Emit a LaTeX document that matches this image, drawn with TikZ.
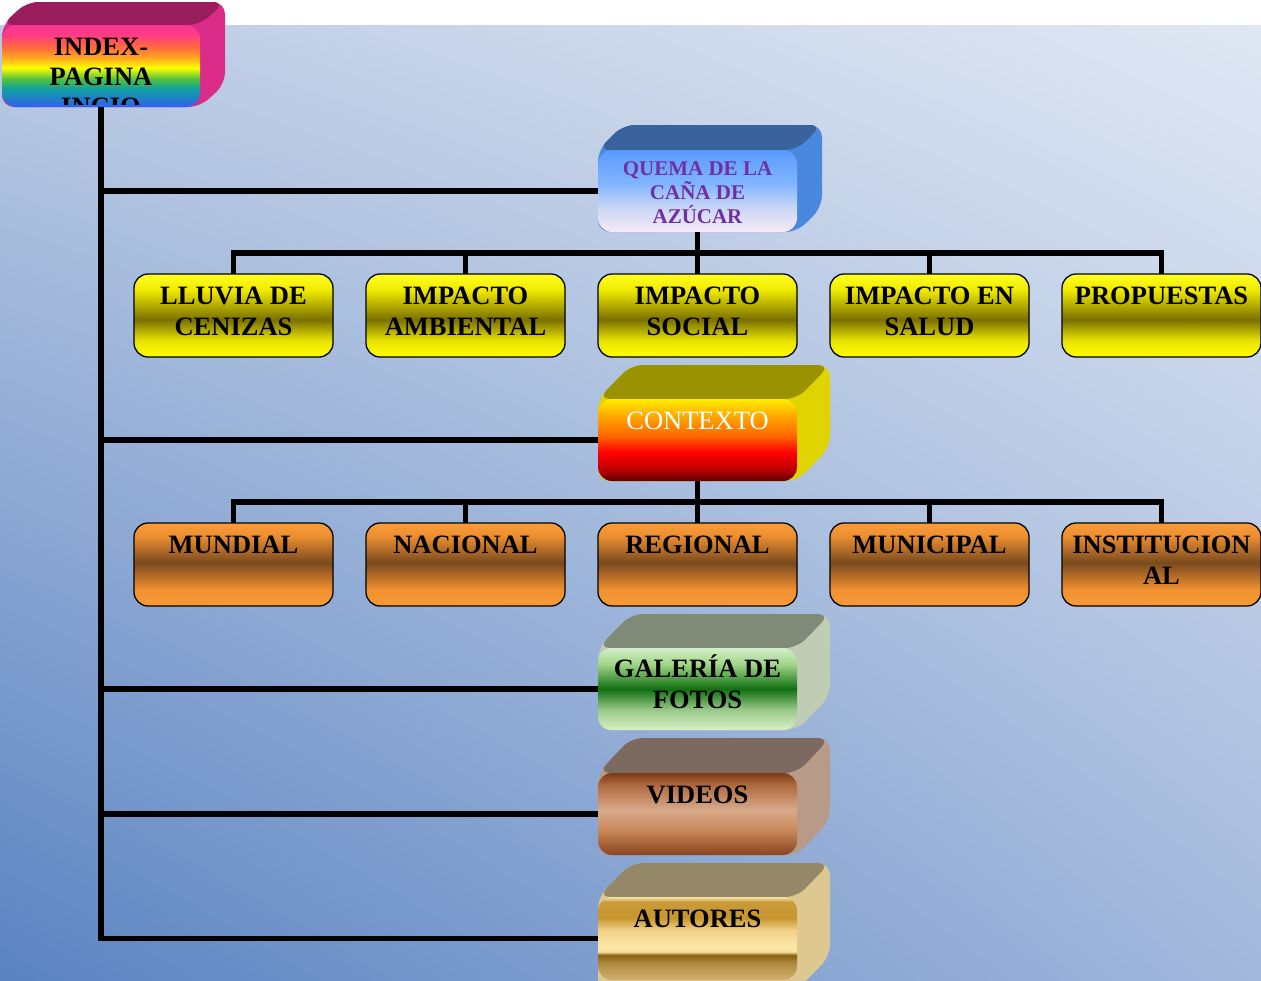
\documentclass[tikz,border=0pt]{standalone}
\usepackage{fontspec}
\setmainfont{Liberation Serif}
\usetikzlibrary{calc,shadings}
% background
\definecolor{bgLL}{HTML}{5A83C1}
\definecolor{bgUL}{HTML}{BCCBE4}
\definecolor{bgUR}{HTML}{DFE7F3}
\definecolor{bgLR}{HTML}{A3B8DC}
% yellow
\definecolor{ylA}{HTML}{FFFF20}\definecolor{ylB}{HTML}{EEE800}\definecolor{ylC}{HTML}{7A7000}
\definecolor{ylD}{HTML}{E8E200}\definecolor{ylE}{HTML}{FFFF00}
\pgfdeclareverticalshading{shyellow}{100bp}{color(0bp)=(ylE); color(25bp)=(ylE); color(35bp)=(ylD); color(47.5bp)=(ylC); color(65bp)=(ylB); color(75bp)=(ylA); color(100bp)=(ylA)}
% orange
\definecolor{orA}{HTML}{F99C3C}\definecolor{orB}{HTML}{EE9030}\definecolor{orC}{HTML}{7A4A1E}
\definecolor{orD}{HTML}{F09030}\definecolor{orE}{HTML}{F99A38}
\pgfdeclareverticalshading{shorange}{100bp}{color(0bp)=(orE); color(25bp)=(orE); color(35bp)=(orD); color(51bp)=(orC); color(67.5bp)=(orB); color(75bp)=(orA); color(100bp)=(orA)}
% contexto
\definecolor{ctA}{HTML}{FFEE00}\definecolor{ctB}{HTML}{FFAA00}\definecolor{ctC}{HTML}{FF6600}
\definecolor{ctD}{HTML}{FF0000}\definecolor{ctE}{HTML}{C00000}\definecolor{ctF}{HTML}{600000}
\pgfdeclareverticalshading{shcontexto}{100bp}{color(0bp)=(ctF); color(25bp)=(ctF); color(32.5bp)=(ctE); color(42.5bp)=(ctD); color(52.5bp)=(ctC); color(65bp)=(ctB); color(75bp)=(ctA); color(100bp)=(ctA)}
% quema
\definecolor{qmA}{HTML}{5A9AFF}\definecolor{qmB}{HTML}{80B4FF}\definecolor{qmC}{HTML}{C8D6F4}\definecolor{qmD}{HTML}{F8EAF8}
\pgfdeclareverticalshading{shquema}{100bp}{color(0bp)=(qmD); color(25bp)=(qmD); color(40bp)=(qmC); color(55bp)=(qmB); color(75bp)=(qmA); color(100bp)=(qmA)}
% index rainbow
\definecolor{ixA}{HTML}{F5368E}\definecolor{ixB}{HTML}{FF3C86}\definecolor{ixC}{HTML}{FF6A3C}
\definecolor{ixD}{HTML}{FFA820}\definecolor{ixE}{HTML}{FFFF00}\definecolor{ixF}{HTML}{50C040}
\definecolor{ixG}{HTML}{10A0A0}\definecolor{ixH}{HTML}{3060F0}
\pgfdeclareverticalshading{shindex}{100bp}{color(0bp)=(ixH); color(25bp)=(ixH); color(36bp)=(ixG); color(42bp)=(ixF); color(49bp)=(ixE); color(55bp)=(ixD); color(61.5bp)=(ixC); color(69bp)=(ixB); color(75bp)=(ixA); color(100bp)=(ixA)}
% galeria
\definecolor{gaA}{HTML}{D4F0C8}\definecolor{gaB}{HTML}{A0D488}\definecolor{gaC}{HTML}{107010}
\definecolor{gaD}{HTML}{98C888}\definecolor{gaE}{HTML}{D8F0C8}
\pgfdeclareverticalshading{shgaleria}{100bp}{color(0bp)=(gaE); color(25bp)=(gaE); color(37.5bp)=(gaD); color(50bp)=(gaC); color(65bp)=(gaB); color(75bp)=(gaA); color(100bp)=(gaA)}
% videos
\definecolor{viA}{HTML}{7A3C14}\definecolor{viB}{HTML}{B06A40}\definecolor{viC}{HTML}{D8AA8A}
\definecolor{viD}{HTML}{C88858}\definecolor{viE}{HTML}{8A4420}
\pgfdeclareverticalshading{shvideos}{100bp}{color(0bp)=(viE); color(25bp)=(viE); color(40bp)=(viD); color(52.5bp)=(viC); color(67.5bp)=(viB); color(75bp)=(viA); color(100bp)=(viA)}
% autores
\definecolor{auA}{HTML}{F8E4A8}\definecolor{auB}{HTML}{C89A38}\definecolor{auC}{HTML}{C8962E}
\definecolor{auD}{HTML}{F0D088}\definecolor{auE}{HTML}{FCE8A8}\definecolor{auF}{HTML}{F8E0A0}
\definecolor{auG}{HTML}{8A6010}\definecolor{auH}{HTML}{B08A40}\definecolor{auI}{HTML}{D0B070}
\pgfdeclareverticalshading{shautores}{100bp}{color(0bp)=(auI); color(25bp)=(auI); color(35bp)=(auH); color(40bp)=(auG); color(42bp)=(auF); color(45bp)=(auE); color(55bp)=(auD); color(62.5bp)=(auC); color(72bp)=(auB); color(75bp)=(auA); color(100bp)=(auA)}
% 3D faces
\definecolor{ixTop}{HTML}{9A1E5E}\definecolor{ixSide}{HTML}{DA2C88}
\definecolor{qmTop}{HTML}{3A629C}\definecolor{qmSide}{HTML}{4A88E0}
\definecolor{ctTop}{HTML}{9A9200}\definecolor{ctSide}{HTML}{E0D400}
\definecolor{gaTop}{HTML}{808A78}\definecolor{gaSide}{HTML}{C0CCB4}
\definecolor{viTop}{HTML}{7C6A60}\definecolor{viSide}{HTML}{B89A88}
\definecolor{auTop}{HTML}{948868}\definecolor{auSide}{HTML}{DCC890}
\definecolor{qmText}{HTML}{7030A0}

\newcommand{\solidback}[8]{%
  \fill[#8, rounded corners=12pt] (#1,#2) -- (#1+#5,#2-#6) -- (#3+#5,#2-#6) -- (#3+#5,#4-#6) -- (#3,#4) -- (#1,#4) -- cycle;
  \fill[#7, rounded corners=12pt] (#1,#2) -- (#1+#5,#2-#6) -- (#3+#5,#2-#6) -- (#3,#2) -- cycle;
}
\newcommand{\tst}{\rule{0pt}{25pt}}
\newcommand{\qst}{\rule{0pt}{20pt}}

\tikzset{
  front/.style={minimum width=199pt, minimum height=82pt, inner sep=0pt, outer sep=0pt, rounded corners=14pt, shade},
  flat/.style={front, draw=black, line width=1.3pt, minimum height=83pt},
  lbl/.style={align=center, inner sep=0pt, anchor=north, font=\bfseries\fontsize{26.5}{31}\selectfont},
  conn/.style={line width=5.5pt, draw=black, line join=miter}
}

\begin{document}
\begin{tikzpicture}[x=1pt, y=-1pt]
\useasboundingbox (0,0) rectangle (1261,980);
\fill[white] (0,0) rectangle (1261,25);
\shade[lower left=bgLL, upper left=bgUL, upper right=bgUR, lower right=bgLR] (0,25) rectangle (1261,980);

% 3D backs
\solidback{2}{25}{200}{107}{25}{23}{ixTop}{ixSide}
\solidback{598}{150}{797}{232}{25}{25}{qmTop}{qmSide}
\solidback{598}{399}{797}{481}{33}{34}{ctTop}{ctSide}
\solidback{598}{648}{797}{730}{33}{34}{gaTop}{gaSide}
\solidback{598}{773}{797}{855}{33}{35}{viTop}{viSide}
\solidback{598}{897}{797}{990}{33}{34}{auTop}{auSide}

% fronts
\node[front, shading=shindex, minimum width=198pt] (index) at (101,66) {};
\node[front, shading=shquema] (quema) at (697.5,191) {};
\node[front, shading=shcontexto] (contexto) at (697.5,440) {};
\node[front, shading=shgaleria] (galeria) at (697.5,689) {};
\node[front, shading=shvideos] (videos) at (697.5,814) {};
\node[front, shading=shautores, minimum height=83pt] (autores) at (697.5,938.5) {};

\node[flat, shading=shyellow] (lluvia) at (233.5,315.5) {};
\node[flat, shading=shyellow] (ambiental) at (465.5,315.5) {};
\node[flat, shading=shyellow] (social) at (697.5,315.5) {};
\node[flat, shading=shyellow] (salud) at (929.5,315.5) {};
\node[flat, shading=shyellow] (propuestas) at (1161.5,315.5) {};

\node[flat, shading=shorange] (mundial) at (233.5,564.5) {};
\node[flat, shading=shorange] (nacional) at (465.5,564.5) {};
\node[flat, shading=shorange] (regional) at (697.5,564.5) {};
\node[flat, shading=shorange] (municipal) at (929.5,564.5) {};
\node[flat, shading=shorange] (institucional) at (1161.5,564.5) {};

% labels
\begin{scope}
  \clip[rounded corners=14pt] (2,25) rectangle (200,104);
  \node[lbl, font=\bfseries\fontsize{26.5}{30}\selectfont] (indexT) at ([yshift=-5pt]index.north) {\tst INDEX-\\PAGINA\\INCIO};
\end{scope}
\node[lbl, text=qmText, font=\bfseries\fontsize{21}{24}\selectfont] (quemaT) at ([yshift=-5pt]quema.north) {\qst QUEMA DE LA\\CAÑA DE\\AZÚCAR};
\node[lbl, text=white, font=\fontsize{26.5}{31}\selectfont] (contextoT) at ([yshift=-5pt]contexto.north) {\tst CONTEXTO};
\node[lbl] (galeriaT) at ([yshift=-4pt]galeria.north) {\tst GALERÍA DE\\FOTOS};
\node[lbl] (videosT) at ([yshift=-5pt]videos.north) {\tst VIDEOS};
\node[lbl] (autoresT) at ([yshift=-5pt]autores.north) {\tst AUTORES};

\node[lbl] (lluviaT) at ([yshift=-5pt]lluvia.north) {\tst LLUVIA DE\\CENIZAS};
\node[lbl] (ambientalT) at ([yshift=-5pt]ambiental.north) {\tst IMPACTO\\AMBIENTAL};
\node[lbl] (socialT) at ([yshift=-5pt]social.north) {\tst IMPACTO\\SOCIAL};
\node[lbl] (saludT) at ([yshift=-5pt]salud.north) {\tst IMPACTO EN\\SALUD};
\node[lbl] (propuestasT) at ([yshift=-5.5pt]propuestas.north) {\tst PROPUESTAS};

\node[lbl] (mundialT) at ([yshift=-5.5pt]mundial.north) {\tst MUNDIAL};
\node[lbl] (nacionalT) at ([yshift=-5.5pt]nacional.north) {\tst NACIONAL};
\node[lbl] (regionalT) at ([yshift=-5.5pt]regional.north) {\tst REGIONAL};
\node[lbl] (municipalT) at ([yshift=-5.5pt]municipal.north) {\tst MUNICIPAL};
\node[lbl] (institucionalT) at ([yshift=-5pt]institucional.north) {\tst INSTITUCION\\AL};

% connectors
\draw[conn] (index.south) |- (autores.west);
\draw[conn] (index.south |- quema.west) -- (quema.west);
\draw[conn] (index.south |- contexto.west) -- (contexto.west);
\draw[conn] (index.south |- galeria.west) -- (galeria.west);
\draw[conn] (index.south |- videos.west) -- (videos.west);

\coordinate (qbus) at (697.5,253);
\draw[conn] (quema.south) -- (qbus);
\draw[conn] (lluvia.north) |- (propuestas.north |- qbus) -- (propuestas.north);
\draw[conn] (ambiental.north) -- (ambiental.north |- qbus);
\draw[conn] (social.north) -- (social.north |- qbus);
\draw[conn] (salud.north) -- (salud.north |- qbus);

\coordinate (cbus) at (697.5,502);
\draw[conn] (contexto.south) -- (cbus);
\draw[conn] (mundial.north) |- (institucional.north |- cbus) -- (institucional.north);
\draw[conn] (nacional.north) -- (nacional.north |- cbus);
\draw[conn] (regional.north) -- (regional.north |- cbus);
\draw[conn] (municipal.north) -- (municipal.north |- cbus);
\end{tikzpicture}
\end{document}
